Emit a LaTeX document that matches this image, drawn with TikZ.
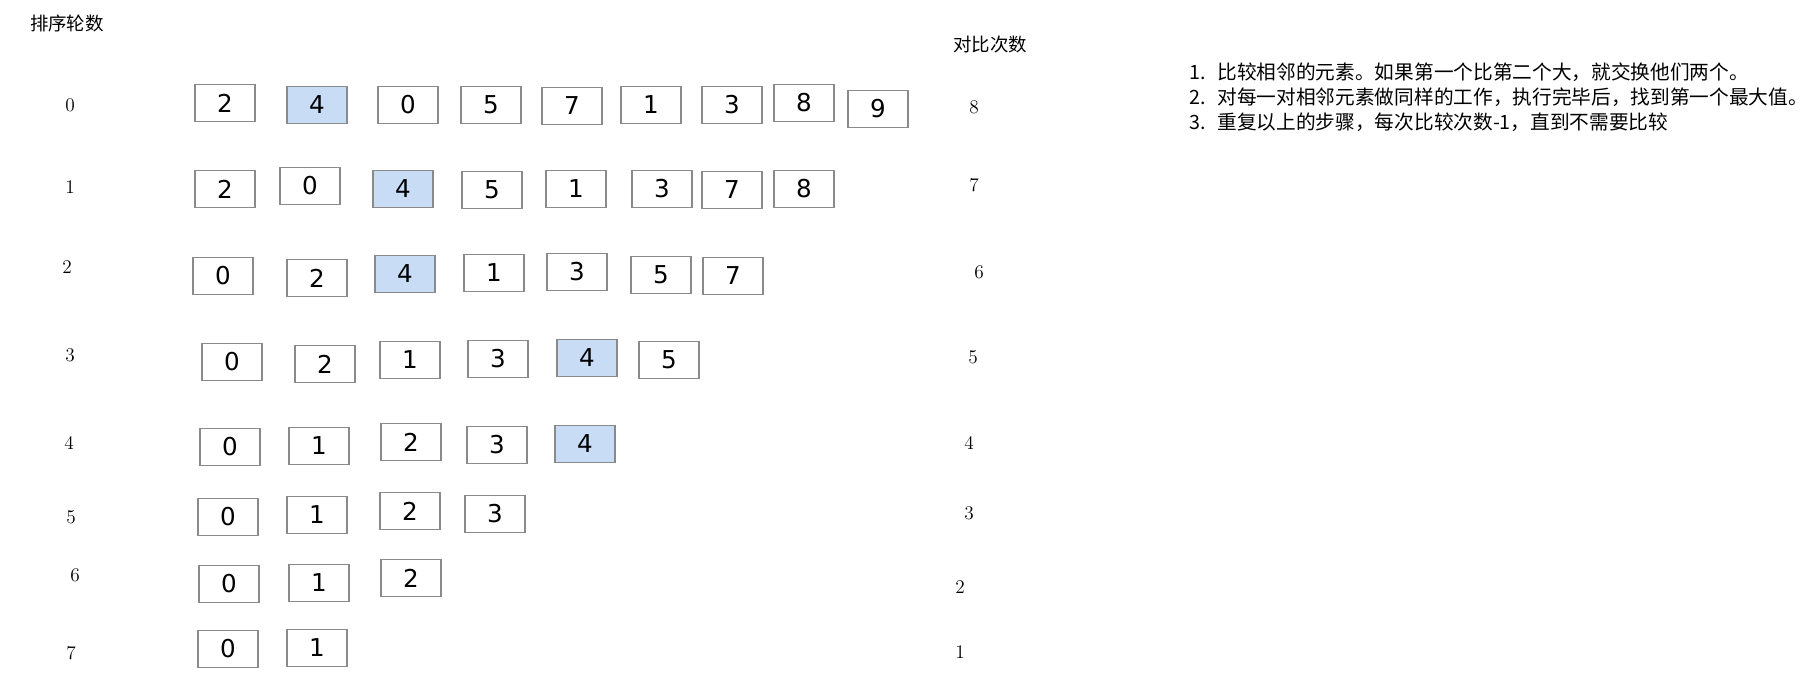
\documentclass[tikz,border=0pt]{standalone}
\usepackage{fontspec}
\usepackage{tikz}
\usetikzlibrary{positioning}
\usepackage{xcolor}
\newfontfamily\cjk{Noto Sans CJK SC}
\newfontfamily\cellfont{DejaVu Sans}
\definecolor{hotblue}{HTML}{C9DCF6}
\definecolor{cellline}{HTML}{8A8A8A}

\begin{document}
\begin{tikzpicture}[x=0.02cm,y=-0.02cm,
  cell/.style={draw=cellline,line width=0.7pt,fill=white,minimum width=1.2cm,minimum height=0.74cm,inner sep=0pt,font=\cellfont\fontsize{14}{16}\selectfont},
  hot/.style={cell,fill=hotblue},
  rnd/.style={inner sep=0pt,font=\fontsize{11}{12}\selectfont},
  head/.style={inner sep=0pt,font=\cjk\fontsize{10.5}{12}\selectfont},
  rule/.style={inner sep=0pt,anchor=west,font=\cjk\fontsize{11.2}{13}\selectfont}]
\useasboundingbox (0,0) rectangle (1819,679);
% headings
\node[head] (h1) at (67,23) {排序轮数};
\node[head] (h2) at (990,45) {对比次数};
% round 0
\node[rnd] (n0) at (70,105) {0};
\node[cell] (b00) at (225,103) {2};
\node[hot]  (b01) at (317,105) {4};
\node[cell] (b02) at (408,105) {0};
\node[cell] (b03) at (491,105) {5};
\node[cell] (b04) at (572,106) {7};
\node[cell] (b05) at (651,105) {1};
\node[cell] (b06) at (732,105) {3};
\node[cell] (b07) at (804,103) {8};
\node[cell] (b08) at (878,109) {9};
\node[rnd] (c0) at (974,107) {8};
% round 1
\node[rnd] (n1) at (70,187) {1};
\node[cell] (b10) at (225,189) {2};
\node[cell] (b11) at (310,186) {0};
\node[hot]  (b12) at (403,189) {4};
\node[cell] (b13) at (492,190) {5};
\node[cell] (b14) at (576,189) {1};
\node[cell] (b15) at (662,189) {3};
\node[cell] (b16) at (732,190) {7};
\node[cell] (b17) at (804,189) {8};
\node[rnd] (c1) at (974,185) {7};
% round 2
\node[rnd] (n2) at (67,267) {2};
\node[cell] (b20) at (223,276) {0};
\node[cell] (b21) at (317,278) {2};
\node[hot]  (b22) at (405,274) {4};
\node[cell] (b23) at (494,273) {1};
\node[cell] (b24) at (577,272) {3};
\node[cell] (b25) at (661,275) {5};
\node[cell] (b26) at (733,276) {7};
\node[rnd] (c2) at (979,272) {6};
% round 3
\node[rnd] (n3) at (70,355) {3};
\node[cell] (b30) at (232,362) {0};
\node[cell] (b31) at (325,364) {2};
\node[cell] (b32) at (410,360) {1};
\node[cell] (b33) at (498,359) {3};
\node[hot]  (b34) at (587,358) {4};
\node[cell] (b35) at (669,360) {5};
\node[rnd] (c3) at (973,357) {5};
% round 4
\node[rnd] (n4) at (69,443) {4};
\node[cell] (b40) at (230,447) {0};
\node[cell] (b41) at (319,446) {1};
\node[cell] (b42) at (411,442) {2};
\node[cell] (b43) at (497,445) {3};
\node[hot]  (b44) at (585,444) {4};
\node[rnd] (c4) at (969,443) {4};
% round 5
\node[rnd] (n5) at (71,517) {5};
\node[cell] (b50) at (228,517) {0};
\node[cell] (b51) at (317,515) {1};
\node[cell] (b52) at (410,511) {2};
\node[cell] (b53) at (495,514) {3};
\node[rnd] (c5) at (969,513) {3};
% round 6
\node[rnd] (n6) at (75,575) {6};
\node[cell] (b60) at (229,584) {0};
\node[cell] (b61) at (319,583) {1};
\node[cell] (b62) at (411,578) {2};
\node[rnd] (c6) at (960,587) {2};
% round 7
\node[rnd] (n7) at (71,653) {7};
\node[cell] (b70) at (228,649) {0};
\node[cell] (b71) at (317,648) {1};
\node[rnd] (c7) at (960,652) {1};
% steps
\node[rule] (s1) at (1189,72) {1.\hspace{0.6em}比较相邻的元素。如果第一个比第二个大，就交换他们两个。};
\node[rule] (s2) at (1189,97) {2.\hspace{0.6em}对每一对相邻元素做同样的工作，执行完毕后，找到第一个最大值。};
\node[rule] (s3) at (1189,122) {3.\hspace{0.6em}重复以上的步骤，每次比较次数-1，直到不需要比较};
\end{tikzpicture}
\end{document}
